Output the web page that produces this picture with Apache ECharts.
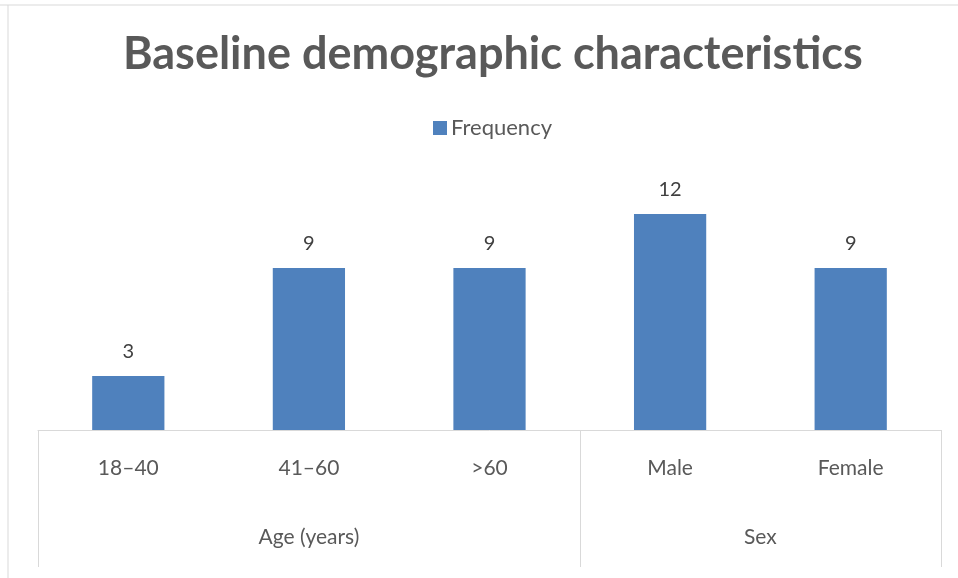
<!DOCTYPE html>
<html><head><meta charset="utf-8">
<script src="https://cdn.jsdelivr.net/npm/echarts@6/dist/echarts.min.js"></script>
<style>html,body{margin:0;padding:0;background:#fff}#c{width:958px;height:578px}</style>
</head><body><div id="c"></div>
<script>
const categories = ['18–40', '41–60', '>60', 'Male', 'Female'];
const frequency = [3, 9, 9, 12, 9];
const groupNames = ['Age (years)', 'Sex'];
const groupSizes = [3, 2];
const seriesName = 'Frequency';

// group boundaries & centres derived from group sizes
const bounds = [0];
groupSizes.forEach(s => bounds.push(bounds[bounds.length - 1] + s));
const centers = groupSizes.map((s, i) => bounds[i] + s / 2);

const FONT = 'Lato';
const chart = echarts.init(document.getElementById('c'), null, {renderer: 'canvas'});
chart.setOption({
  animation: false,
  backgroundColor: '#fff',
  title: {
    text: 'Baseline demographic characteristics',
    left: 118, top: 27,
    textStyle: {fontFamily: FONT, fontWeight: 'bold', fontSize: 45, color: '#595959'}
  },
  legend: {
    top: 112, left: 428,
    itemWidth: 14, itemHeight: 14, itemGap: 6,
    icon: 'rect',
    textStyle: {fontFamily: FONT, fontSize: 22, color: '#595959', padding: [0, 0, 0, -1]},
    data: [seriesName]
  },
  grid: {left: 38, right: 17, top: 178, bottom: 148},
  xAxis: [{
    type: 'category', data: categories, position: 'bottom',
    axisLine: {lineStyle: {color: '#d9d9d9', width: 1}},
    axisTick: {show: false},
    axisLabel: {margin: 28, fontFamily: FONT, fontSize: 21, color: '#595959'}
  }, {
    type: 'value', min: 0, max: bounds[bounds.length - 1], position: 'bottom',
    axisLine: {show: false},
    splitLine: {show: false},
    axisTick: {show: true, customValues: bounds, length: 137, lineStyle: {color: '#d9d9d9', width: 1}},
    axisLabel: {
      customValues: centers, margin: 97, fontFamily: FONT, fontSize: 21, color: '#595959',
      formatter: v => groupNames[centers.indexOf(v)] || ''
    }
  }],
  yAxis: {type: 'value', min: 0, max: 14, show: false, splitLine: {show: false}},
  series: [{
    name: seriesName, type: 'bar', data: frequency, barWidth: '40%',
    itemStyle: {color: '#4f81bd'},
    label: {show: true, position: 'top', distance: 14, fontFamily: FONT, fontSize: 20, color: '#404040'}
  }],
  graphic: [
    {type: 'line', shape: {x1: 0, y1: 5, x2: 958, y2: 5}, style: {stroke: '#d9d9d9', lineWidth: 1}},
    {type: 'line', shape: {x1: 8, y1: 5, x2: 8, y2: 578}, style: {stroke: '#d9d9d9', lineWidth: 1}}
  ]
});
</script></body></html>
